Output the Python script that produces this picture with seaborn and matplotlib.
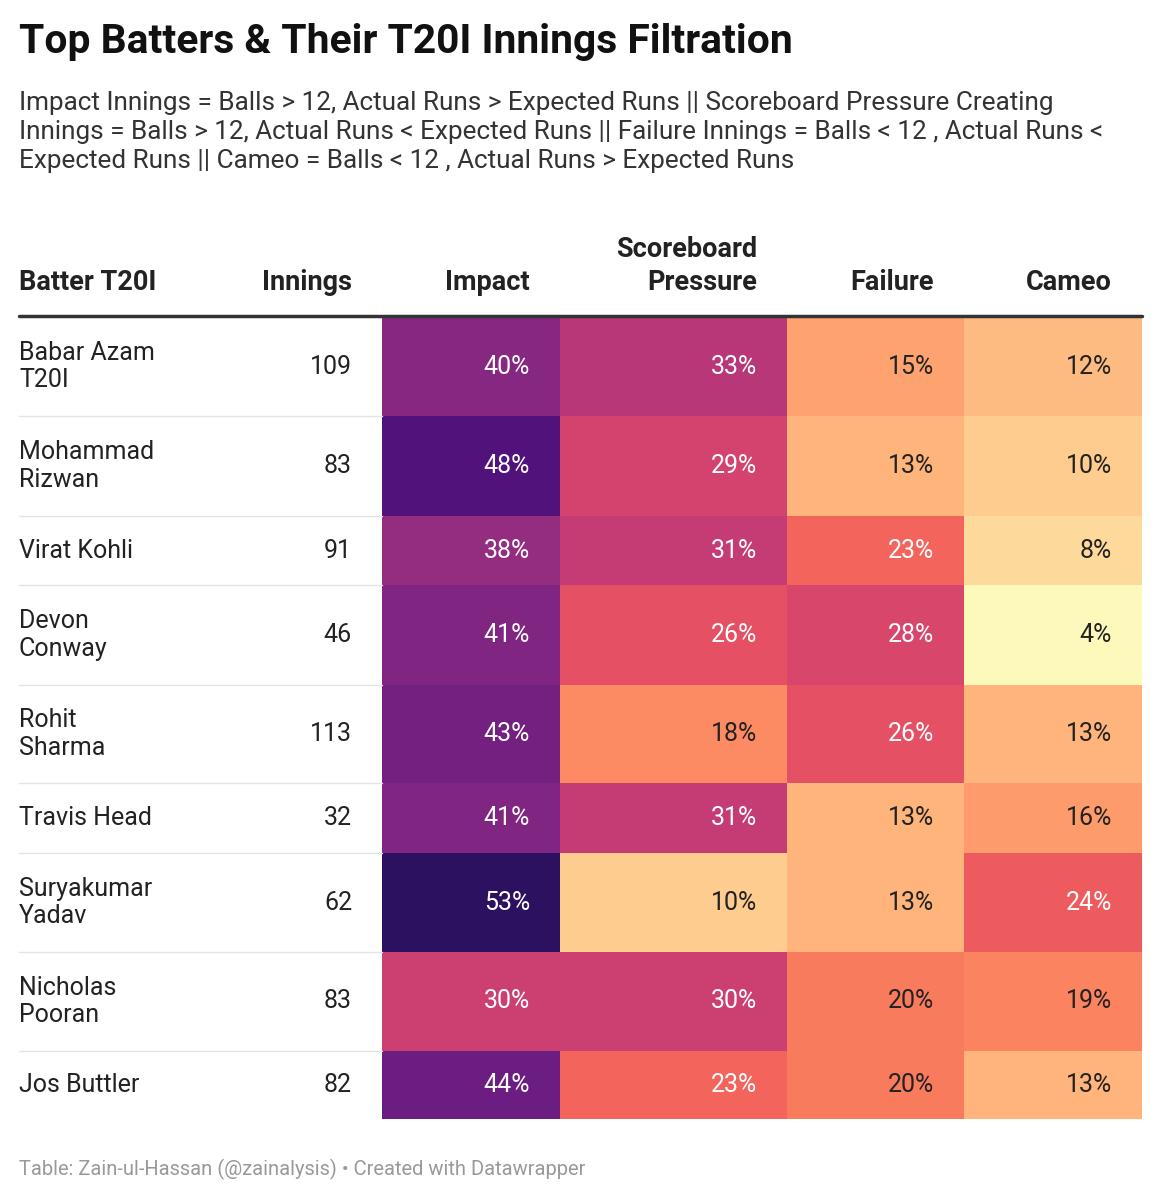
import numpy as np
import matplotlib
matplotlib.use("Agg")
import matplotlib.pyplot as plt
import seaborn as sns

sns.set_style("white")
plt.rcParams['font.family'] = ['Roboto', 'DejaVu Sans']

batters = ["Babar Azam\nT20I", "Mohammad\nRizwan", "Virat Kohli", "Devon\nConway", "Rohit\nSharma",
           "Travis Head", "Suryakumar\nYadav", "Nicholas\nPooran", "Jos Buttler"]
innings = [109, 83, 91, 46, 113, 32, 62, 83, 82]
impact = [40, 48, 38, 41, 43, 41, 53, 30, 44]
pressure = [33, 29, 31, 26, 18, 31, 10, 30, 23]
failure = [15, 13, 23, 28, 26, 13, 13, 20, 20]
cameo = [12, 10, 8, 4, 13, 16, 24, 19, 13]
columns = ["Impact", "Scoreboard\nPressure", "Failure", "Cameo"]

W, H = 1161, 1200
fig = plt.figure(figsize=(W / 100, H / 100), dpi=100)


def fx(x):
    return x / W


def fy(y):
    return 1 - y / H


fig.text(fx(19), fy(42), "Top Batters & Their T20I Innings Filtration", fontsize=29.3, fontweight='bold',
         va='center', color='#111111')
fig.text(fx(19), fy(132),
         "Impact Innings = Balls > 12, Actual Runs > Expected Runs || Scoreboard Pressure Creating\n"
         "Innings = Balls > 12, Actual Runs < Expected Runs || Failure Innings = Balls < 12 , Actual Runs <\n"
         "Expected Runs || Cameo = Balls < 12 , Actual Runs > Expected Runs",
         fontsize=18.8, va='center', color='#333333', linespacing=1.25)

# headers
fig.text(fx(19), fy(283), "Batter T20I", fontsize=19.5, fontweight='bold', va='center', color='#222222')
fig.text(fx(352), fy(283), "Innings", fontsize=19.5, fontweight='bold', va='center', ha='right', color='#222222')
col_edges = [382, 560, 787, 964, 1142]
for i, c in enumerate(columns):
    yy = 266 if '\n' in c else 283
    fig.text(fx(col_edges[i + 1] - 30), fy(yy), c, fontsize=19.5, fontweight='bold', va='center',
             ha='right', color='#222222', linespacing=1.3)

row_edges = [317, 416, 516, 585, 685, 783, 853, 952, 1051, 1119]
cm = sns.color_palette("magma_r", as_cmap=True)
norm = plt.Normalize(3.5, 63)
data = np.array([impact, pressure, failure, cameo]).T

for r in range(len(batters)):
    y0, y1 = row_edges[r], row_edges[r + 1]
    ax = fig.add_axes([fx(382), fy(y1), fx(1142 - 382), (y1 - y0) / H])
    ax.set_axis_off()
    ax.set_xlim(col_edges[0], col_edges[-1]); ax.set_ylim(0, 1)
    for c in range(4):
        v = data[r, c]
        ax.axvspan(col_edges[c], col_edges[c + 1], color=cm(norm(v)), lw=0)
        ax.text(col_edges[c + 1] - 30, 0.5, f"{v}%", fontsize=18, ha='right', va='center',
                color='white' if v > 21 else '#222222')
    ym = (y0 + y1) / 2
    fig.text(fx(19), fy(ym), batters[r], fontsize=18, va='center', color='#222222', linespacing=1.2)
    fig.text(fx(352), fy(ym), str(innings[r]), fontsize=18, va='center', ha='right', color='#222222')
    if r < len(batters) - 1:
        fig.add_artist(plt.Line2D([fx(19), fx(382)], [fy(y1), fy(y1)], color='#e4e4e4', lw=1))

fig.add_artist(plt.Line2D([fx(19), fx(1142)], [fy(316), fy(316)], color='#333333', lw=2.5))
fig.text(fx(19), fy(1169), "Table: Zain-ul-Hassan (@zainalysis) • Created with Datawrapper",
         fontsize=14.5, va='center', color='#999999')

plt.savefig("out.png", dpi=100)
